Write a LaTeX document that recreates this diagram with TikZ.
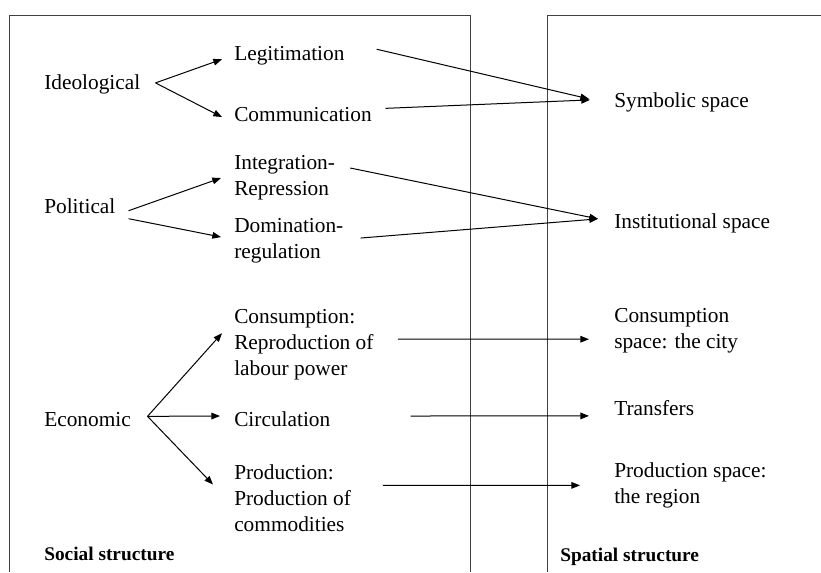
\documentclass[tikz,border=0pt]{standalone}
\usepackage{fontspec}
\setmainfont{Liberation Serif}
\usetikzlibrary{arrows.meta, calc}

\begin{document}
\begin{tikzpicture}[
    x=0.75pt, y=-0.75pt,
    term/.style={inner sep=0pt, anchor=base west, font=\fontsize{16pt}{19.5pt}\selectfont},
    multi/.style={term, align=left, anchor=north west},
    heading/.style={inner sep=0pt, anchor=base west, font=\fontsize{14.5pt}{17pt}\selectfont\bfseries},
    frame/.style={draw=black!75, line width=0.75pt},
    arrow/.style={line width=0.75pt, -{Triangle[length=6.5pt,width=5pt]}}
]
\useasboundingbox (0,0) rectangle (821,572);

% Frames
\draw[frame] (9,572) -- (9,15) -- (470,15) -- (470,572);
\draw[frame] (547,572) -- (547,15) -- (821,15);

% Ideological
\node[term] (ideo) at (44,89) {Ideological};
\node[term] (legit) at (234,60) {Legitimation};
\node[term] (comm) at (234,121) {Communication};

% Political
\node[term] (pol) at (44,213) {Political};
\node[multi] (integ) at (234,155.4) {Integration-\\Repression};
\node[multi] (dom) at (234,218.4) {Domination-\\regulation};

% Economic
\node[term] (econ) at (44,426) {Economic};
\node[multi] (cons) at (234,308.6) {Consumption:\\Reproduction of\\labour power};
\node[term] (circ) at (234,426) {Circulation};
\node[multi] (prod) at (234,464.4) {Production:\\Production of\\commodities};

% Spaces
\node[term] (sym) at (614,107) {Symbolic space};
\node[term] (inst) at (614,228) {Institutional space};
\node[multi] (consp) at (614,308.6) {Consumption\\space: the city};
\node[term] (trans) at (614,415) {Transfers};
\node[multi] (prodsp) at (614,462.4) {Production space:\\the region};

% Headings
\node[heading] (social) at (44,560) {Social structure};
\node[heading] (spatial) at (560,561) {Spatial structure};

% Arrows inside the social structure
\draw[arrow] ($(ideo.east)+(15,-1)$) -- ($(legit.west)+(-12,4)$);
\draw[arrow] ($(ideo.east)+(15,-1)$) -- ($(comm.west)+(-12,3)$);
\draw[arrow] ($(pol.east)+(13,5)$) -- ($(integ.west)+(-13,0)$);
\draw[arrow] ($(pol.east)+(13,13)$) -- ($(dom.west)+(-13,-4)$);
\draw[arrow] ($(econ.east)+(16.5,-2.7)$) -- ($(cons.west)+(-12,-11)$);
\draw[arrow] ($(econ.east)+(16.5,-2.7)$) -- ($(circ.west)+(-14,-2.7)$);
\draw[arrow] ($(econ.east)+(16.5,-2.7)$) -- ($(prod.west)+(-21,-13.7)$);

% Arrows to the spatial structure
\draw[arrow] ($(legit.east)+(32,-6)$) -- ($(sym.west)+(-25,-3)$);
\draw[arrow] ($(comm.east)+(13.5,-5.7)$) -- ($(sym.west)+(-24,-2)$);
\draw[arrow] ($(integ.east)+(15,-10)$) -- ($(inst.west)+(-16,-4)$);
\draw[arrow] ($(dom.east)+(17,-3)$) -- ($(inst.west)+(-16,-4)$);
\draw[arrow] ($(cons.east)+(24,-5)$) -- ($(consp.west)+(-25,8)$);
\draw[arrow] ($(circ.east)+(80,-2.7)$) -- ($(trans.west)+(-25,8.3)$);
\draw[arrow] ($(prod.east)+(31.6,-12.7)$) -- ($(prodsp.west)+(-34,0)$);

\end{tikzpicture}
\end{document}
